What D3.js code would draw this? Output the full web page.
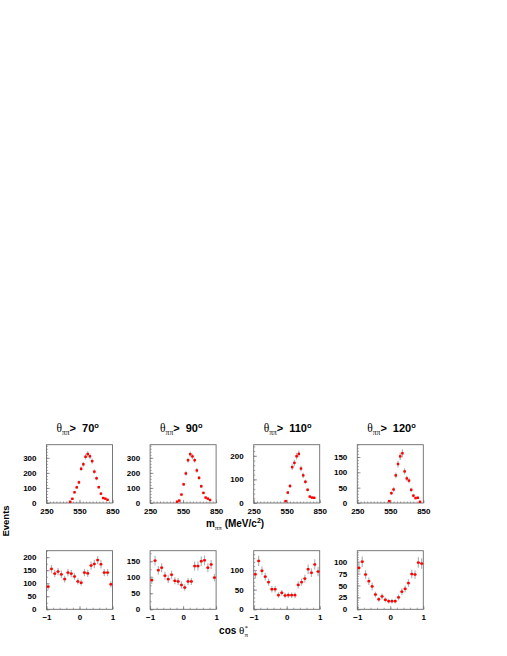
<!DOCTYPE html>
<html><head><meta charset="utf-8">
<script src="https://cdn.jsdelivr.net/npm/d3@7"></script>
<style>
body{margin:0;background:#fff}
text{font-family:"Liberation Sans",Arial,sans-serif;font-weight:bold;fill:#000}
</style>
</head><body>
<svg id="c" width="507" height="656"></svg>
<script>
// ---- data ----
const thetaCuts = ["70", "90", "110", "120"];

const massX1 = [465,485,505,525,545,565,585,605,625,645,665,685,705,725,745,765,785,805];
const massY1 = [8,28,71,104,137,227,257,307,325,310,278,208,164,105,62,33,29,21];
const massE1 = [3,5,8,10,12,15,16,18,18,18,17,14,13,10,8,6,5,5];

const massX2 = [495,515,535,555,575,595,615,635,655,675,695,715,735,755,775,795];
const massY2 = [9,16,56,124,196,284,324,309,284,216,167,111,67,36,29,20];
const massE2 = [3,4,7,11,14,17,18,18,17,15,13,11,8,6,5,4];

const massX3 = [540,560,580,600,620,640,660,680,700,720,740,760,780,800];
const massY3 = [8,44,72,152,170,198,208,146,117,90,56,27,23,22];
const massE3 = [3,7,8,12,13,14,14,12,11,9,7,5,5,5];

const massX4 = [540,560,580,600,620,640,660,680,700,720,740,760,780,800,820];
const massY4 = [6,32,44,90,127,152,162,103,80,73,43,24,16,17,4];
const massE4 = [2,6,7,9,11,12,13,10,9,9,7,5,4,4,2];

const cosX = [-0.95,-0.85,-0.75,-0.65,-0.55,-0.45,-0.35,-0.25,-0.15,-0.05,0.05,0.15,0.25,0.35,0.45,0.55,0.65,0.75,0.85,0.95];
const cosY1 = [87,155,137,145,134,116,141,137,126,107,102,141,138,168,174,189,173,141,141,96];
const cosE1 = [12,15,14,14,14,13,14,14,13,12,12,14,14,16,16,16,16,14,14,12];
const cosY2 = [91,152,122,130,105,94,108,89,87,76,68,87,87,135,135,150,153,130,140,99];
const cosE2 = [12,15,13,14,12,12,13,11,11,11,10,11,11,14,14,15,15,14,14,12];
const cosY3 = [89,123,98,83,69,51,51,36,42,35,36,36,36,62,69,78,102,93,114,96];
const cosE3 = [11,13,11,10,9,8,8,7,7,7,7,7,7,9,9,10,12,11,13,12];
const cosY4 = [87,100,73,59,48,31,21,27,20,17,17,17,25,37,43,55,74,73,98,96];
const cosE4 = [10,11,9,8,8,6,5,6,5,5,5,5,6,7,7,8,9,9,11,11];

const massTicks = [250, 550, 850];
const cosTicks = [-1, 0, 1];
const massYMax = [387, 387, 247, 190];
const cosYMax = [225, 183, 149, 123];
const massYTicks = [[0,100,200,300],[0,100,200,300],[0,100,200],[0,50,100,150]];
const massYMinorStep = [20, 20, 20, 10];
const cosYTicks = [[0,50,100,150,200],[0,50,100,150],[0,50,100],[0,25,50,75,100]];
const cosYMinorStep = [25, 25, 10, 5];

// ---- layout ----
const svg = d3.select("#c");
const W = 66;
const leftOf = i => 46.5 + i * 103.6;
const topRow = {y0: 444.7, y1: 503};
const botRow = {y0: 550.7, y1: 609.3};
const frameColor = "#6b6b6b";

const massSets = [
  {x: massX1, y: massY1, e: massE1},
  {x: massX2, y: massY2, e: massE2},
  {x: massX3, y: massY3, e: massE3},
  {x: massX4, y: massY4, e: massE4}
];
const cosSets = [
  {y: cosY1, e: cosE1}, {y: cosY2, e: cosE2}, {y: cosY3, e: cosE3}, {y: cosY4, e: cosE4}
];

function range(a, b, s) { const r = []; for (let v = a; v <= b + 1e-9; v += s) r.push(+v.toFixed(6)); return r; }

function panel(i, row, xDom, xTicks, xMinorStep, xBin, yMax, yTicks, yMinor, xs, ys, es, xLabelPad) {
  const L = leftOf(i);
  const x = d3.scaleLinear().domain(xDom).range([L, L + W]);
  const y = d3.scaleLinear().domain([0, yMax]).range([row.y1, row.y0]);
  const g = svg.append("g");

  // minor ticks
  const minorX = d3.axisBottom(x).tickValues(range(xDom[0], xDom[1], xMinorStep)).tickSize(-1.6).tickFormat("");
  g.append("g").attr("transform", `translate(0,${row.y1})`).call(minorX)
    .call(a => a.select(".domain").remove()).selectAll("line").attr("stroke", frameColor).attr("stroke-width", 0.6);
  const minorY = d3.axisLeft(y).tickValues(range(0, yMax, yMinor)).tickSize(-1.6).tickFormat("");
  g.append("g").attr("transform", `translate(${L},0)`).call(minorY)
    .call(a => a.select(".domain").remove()).selectAll("line").attr("stroke", frameColor).attr("stroke-width", 0.6);

  // major ticks + labels
  const ax = d3.axisBottom(x).tickValues(xTicks).tickSize(-3.2).tickPadding(xLabelPad).tickFormat(d3.format("d"));
  const gx = g.append("g").attr("transform", `translate(0,${row.y1})`).call(ax);
  gx.select(".domain").remove();
  gx.selectAll("line").attr("stroke", frameColor).attr("stroke-width", 0.7);
  gx.selectAll("text").attr("font-size", 8).attr("font-family", "Liberation Sans, Arial, sans-serif").attr("font-weight", "bold").attr("fill", "#000");

  const ay = d3.axisLeft(y).tickValues(yTicks).tickSize(-3.2).tickPadding(10).tickFormat(d3.format("d"));
  const gy = g.append("g").attr("transform", `translate(${L},0)`).call(ay);
  gy.select(".domain").remove();
  gy.selectAll("line").attr("stroke", frameColor).attr("stroke-width", 0.7);
  gy.selectAll("text").attr("font-size", 8).attr("font-family", "Liberation Sans, Arial, sans-serif").attr("font-weight", "bold").attr("fill", "#000");

  // frame
  g.append("rect").attr("x", L).attr("y", row.y0).attr("width", W).attr("height", row.y1 - row.y0)
    .attr("fill", "none").attr("stroke", frameColor).attr("stroke-width", 0.9);

  // points
  const pts = xs.map((xv, k) => ({x: xv, y: ys[k], e: es[k]}));
  const pg = g.append("g");
  pg.selectAll("line.err").data(pts).join("line").attr("class", "err")
    .attr("x1", d => x(d.x)).attr("x2", d => x(d.x))
    .attr("y1", d => y(Math.max(0, d.y - d.e))).attr("y2", d => y(d.y + d.e))
    .attr("stroke", "#b4b4b4").attr("stroke-width", 1.2);
  pg.selectAll("line.bin").data(pts).join("line").attr("class", "bin")
    .attr("x1", d => x(d.x - xBin / 2)).attr("x2", d => x(d.x + xBin / 2))
    .attr("y1", d => y(d.y)).attr("y2", d => y(d.y))
    .attr("stroke", "#ff0000").attr("stroke-width", 0.8);
  pg.selectAll("rect.m").data(pts).join("rect").attr("class", "m")
    .attr("x", d => x(d.x) - 1.2).attr("y", d => y(d.y) - 1.2)
    .attr("width", 2.4).attr("height", 2.4).attr("fill", "#ff0000");
}

for (let i = 0; i < 4; i++) {
  const m = massSets[i];
  panel(i, topRow, [250, 850], massTicks, 30, 20, massYMax[i], massYTicks[i], massYMinorStep[i], m.x, m.y, m.e, 5.6);
  const c = cosSets[i];
  panel(i, botRow, [-1, 1], cosTicks, 0.2, 0.1, cosYMax[i], cosYTicks[i], cosYMinorStep[i], cosX, c.y, c.e, 5);

  // title
  const t = svg.append("text").attr("x", leftOf(i) + 10).attr("y", 432);
  t.append("tspan").text("θ").attr("font-family", "Liberation Serif, Times New Roman, serif").attr("font-weight", "normal").attr("font-size", 11.5);
  t.append("tspan").text("ππ").attr("font-family", "Liberation Serif, Times New Roman, serif").attr("font-weight", "normal").attr("font-size", 7.5).attr("dy", 2.5);
  t.append("tspan").text(">").attr("font-size", 11).attr("dy", -2.5);
  t.append("tspan").text(thetaCuts[i]).attr("font-size", 11).attr("dx", 6);
  t.append("tspan").text("o").attr("font-size", 7.5).attr("dy", -4.5);
}

// axis titles
const mx = svg.append("text").attr("x", 235).attr("y", 527).attr("text-anchor", "middle").attr("font-size", 10);
mx.append("tspan").text("m");
mx.append("tspan").text("ππ").attr("font-family", "Liberation Serif, Times New Roman, serif").attr("font-weight", "normal").attr("font-size", 7).attr("dy", 2.5);
mx.append("tspan").text(" (MeV/c").attr("dy", -2.5);
mx.append("tspan").text("2").attr("font-size", 7).attr("dy", -4);
mx.append("tspan").text(")").attr("dy", 4);

const cx = svg.append("text").attr("x", 233.5).attr("y", 634).attr("text-anchor", "middle").attr("font-size", 10);
cx.append("tspan").text("cos ");
cx.append("tspan").text("θ").attr("font-family", "Liberation Serif, Times New Roman, serif").attr("font-weight", "normal").attr("font-size", 11);
cx.append("tspan").text("π").attr("font-family", "Liberation Serif, Times New Roman, serif").attr("font-weight", "normal").attr("font-size", 7).attr("dy", 2.5);
cx.append("tspan").text("*").attr("font-family", "Liberation Serif, Times New Roman, serif").attr("font-weight", "normal").attr("font-size", 7).attr("dx", -3.5).attr("dy", -7);

svg.append("text").attr("transform", "translate(9,521) rotate(-90)").attr("text-anchor", "middle")
  .attr("font-size", 9.5).text("Events");
</script>
</body></html>
